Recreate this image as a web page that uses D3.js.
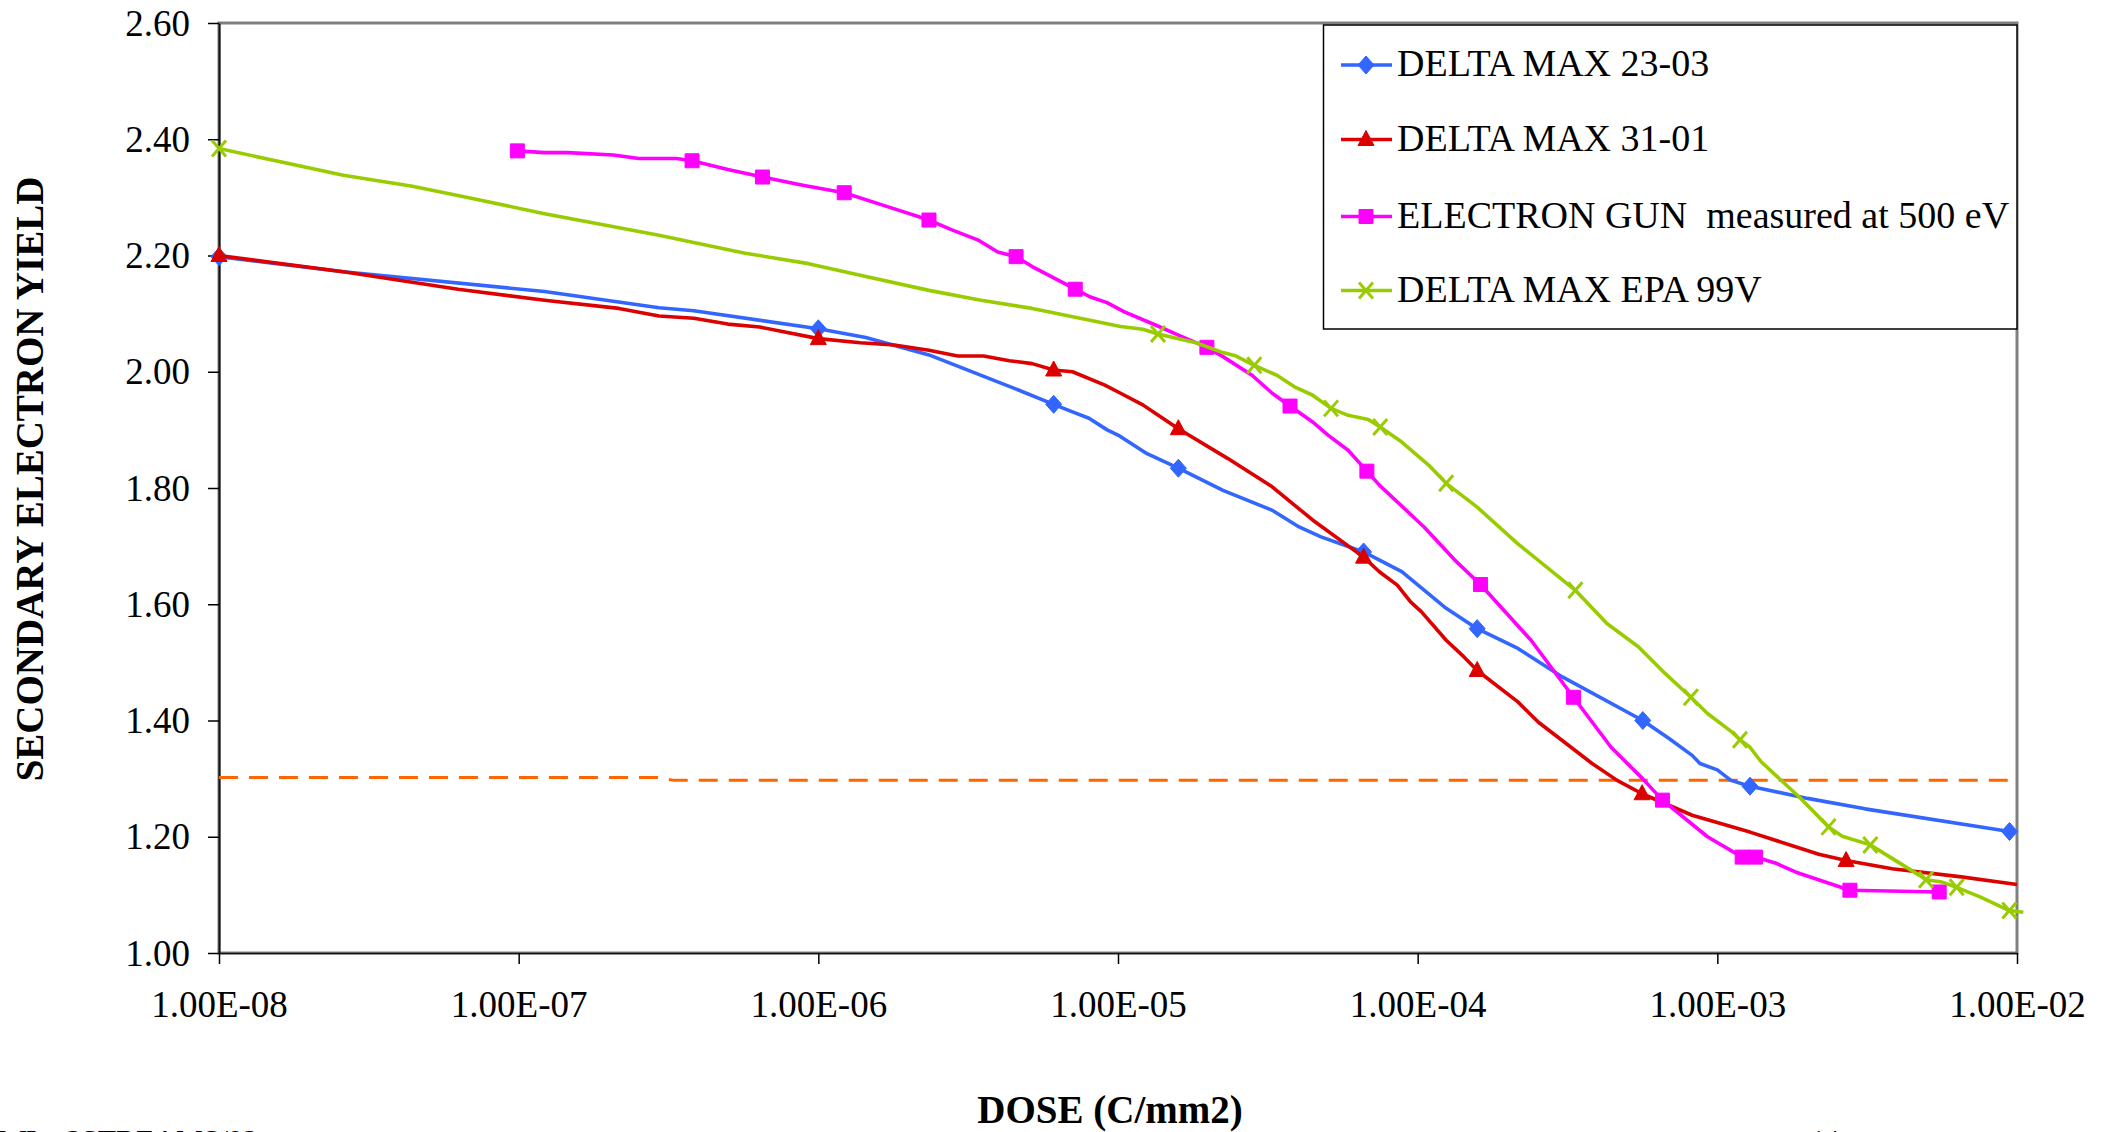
<!DOCTYPE html>
<html>
<head>
<meta charset="utf-8">
<script src="https://cdn.jsdelivr.net/npm/d3@7"></script>
<style>
  html, body { margin: 0; padding: 0; background: #fff; }
  svg { display: block; }
  text { font-family: "Liberation Serif", "Times New Roman", serif; fill: #000; }
</style>
</head>
<body>
<svg id="chart" width="2103" height="1132"></svg>
<script>
// ---------------- DATA ----------------
const xTickValues = [1e-8, 1e-7, 1e-6, 1e-5, 1e-4, 1e-3, 1e-2];
const xTickLabels = ["1.00E-08", "1.00E-07", "1.00E-06", "1.00E-05", "1.00E-04", "1.00E-03", "1.00E-02"];
const yTickValues = [1.00, 1.20, 1.40, 1.60, 1.80, 2.00, 2.20, 2.40, 2.60];
const yTickLabels = ["1.00", "1.20", "1.40", "1.60", "1.80", "2.00", "2.20", "2.40", "2.60"];

const seriesNames = ["DELTA MAX 23-03", "DELTA MAX 31-01", "ELECTRON GUN  measured at 500 eV", "DELTA MAX EPA 99V"];

// [dose (C/mm2), secondary electron yield, marker shown (1/0)]
const deltaMax2303 = [
  [1e-8, 2.198, 1], [2.6e-8, 2.172, 0], [1.22e-7, 2.138, 0], [2.94e-7, 2.110, 0], [3.84e-7, 2.105, 0],
  [1.0e-6, 2.074, 1], [1.44e-6, 2.059, 0], [2.34e-6, 2.029, 0], [4.53e-6, 1.971, 0], [6.1e-6, 1.944, 1],
  [7.05e-6, 1.931, 0], [8.0e-6, 1.920, 0], [9.2e-6, 1.900, 0], [1.0e-5, 1.891, 0], [1.25e-5, 1.859, 0],
  [1.59e-5, 1.834, 1], [2.24e-5, 1.796, 0], [3.26e-5, 1.762, 0], [4.02e-5, 1.733, 0], [4.76e-5, 1.716, 0],
  [6.6e-5, 1.690, 1], [8.85e-5, 1.656, 0], [1.245e-4, 1.593, 0], [1.58e-4, 1.558, 1], [2.16e-4, 1.524, 0],
  [3.04e-4, 1.475, 0], [5.64e-4, 1.400, 1], [6.9e-4, 1.369, 0], [8.24e-4, 1.340, 0], [8.75e-4, 1.326, 0],
  [1.0e-3, 1.315, 0], [1.11e-3, 1.297, 0], [1.285e-3, 1.287, 1], [2.0e-3, 1.266, 0], [3.11e-3, 1.248, 0],
  [9.44e-3, 1.209, 1]
];

const deltaMax3101 = [
  [1e-8, 2.200, 1], [2.6e-8, 2.172, 0], [6.28e-8, 2.142, 0], [1.22e-7, 2.123, 0], [2.16e-7, 2.109, 0],
  [2.94e-7, 2.096, 0], [3.84e-7, 2.092, 0], [4.99e-7, 2.082, 0], [6.37e-7, 2.077, 0], [1.0e-6, 2.057, 1],
  [1.38e-6, 2.050, 0], [1.79e-6, 2.046, 0], [2.34e-6, 2.037, 0], [2.92e-6, 2.027, 0], [3.56e-6, 2.027, 0],
  [4.34e-6, 2.019, 0], [5.17e-6, 2.014, 0], [6.1e-6, 2.003, 1], [7.05e-6, 2.000, 0], [9.04e-6, 1.977, 0],
  [1.02e-5, 1.963, 0], [1.21e-5, 1.943, 0], [1.39e-5, 1.922, 0], [1.59e-5, 1.902, 1], [2.32e-5, 1.851, 0],
  [3.27e-5, 1.802, 0], [4.46e-5, 1.745, 0], [6.6e-5, 1.681, 1], [7.45e-5, 1.656, 0], [8.55e-5, 1.633, 0],
  [9.47e-5, 1.604, 0], [1.03e-4, 1.587, 0], [1.245e-4, 1.538, 0], [1.43e-4, 1.509, 0], [1.58e-4, 1.486, 1],
  [2.16e-4, 1.432, 0], [2.53e-4, 1.397, 0], [3.82e-4, 1.326, 0], [4.63e-4, 1.297, 0], [5.61e-4, 1.274, 1],
  [8.24e-4, 1.237, 0], [1.285e-3, 1.208, 0], [2.18e-3, 1.170, 0], [2.69e-3, 1.159, 1], [3.83e-3, 1.145, 0],
  [6.52e-3, 1.131, 0], [1.0e-2, 1.118, 0]
];

const electronGun = [
  [9.9e-8, 2.380, 1], [1.22e-7, 2.377, 0], [1.46e-7, 2.377, 0], [2.07e-7, 2.373, 0], [2.52e-7, 2.367, 0],
  [3.36e-7, 2.367, 0], [3.79e-7, 2.363, 1], [4.99e-7, 2.348, 0], [6.51e-7, 2.335, 1], [8.87e-7, 2.321, 0],
  [1.22e-6, 2.308, 1], [1.68e-6, 2.285, 0], [2.34e-6, 2.261, 1], [2.79e-6, 2.244, 0], [3.4e-6, 2.227, 0],
  [3.97e-6, 2.206, 0], [4.57e-6, 2.198, 1], [5.17e-6, 2.181, 0], [6.45e-6, 2.155, 0], [7.2e-6, 2.142, 1],
  [8.05e-6, 2.129, 0], [9.19e-6, 2.119, 0], [1.05e-5, 2.103, 0], [1.34e-5, 2.080, 0], [1.59e-5, 2.063, 0],
  [1.98e-5, 2.042, 1], [2.24e-5, 2.026, 0], [2.8e-5, 1.994, 0], [3.27e-5, 1.963, 0], [3.75e-5, 1.941, 1],
  [4.45e-5, 1.914, 0], [5.02e-5, 1.891, 0], [5.86e-5, 1.865, 0], [6.77e-5, 1.829, 1], [7.45e-5, 1.805, 0],
  [1.05e-4, 1.733, 0], [1.33e-4, 1.676, 0], [1.62e-4, 1.634, 1], [2.39e-4, 1.538, 0], [3.31e-4, 1.440, 1],
  [4.42e-4, 1.354, 0], [5.63e-4, 1.300, 0], [6.56e-4, 1.263, 1], [9.27e-4, 1.200, 0], [1.21e-3, 1.165, 1],
  [1.34e-3, 1.165, 1], [1.56e-3, 1.155, 0], [1.83e-3, 1.139, 0], [2.77e-3, 1.108, 1], [5.5e-3, 1.105, 1]
];

const deltaMaxEpa99V = [
  [1e-8, 2.384, 1], [2.6e-8, 2.338, 0], [4.42e-8, 2.319, 0], [6.57e-8, 2.301, 0], [1.22e-7, 2.272, 0],
  [2.94e-7, 2.235, 0], [5.7e-7, 2.204, 0], [9.27e-7, 2.186, 0], [1.38e-6, 2.166, 0], [2.34e-6, 2.140, 0],
  [3.49e-6, 2.123, 0], [5.17e-6, 2.109, 0], [7.48e-6, 2.092, 0], [1.02e-5, 2.078, 0], [1.21e-5, 2.073, 0],
  [1.36e-5, 2.065, 1], [1.82e-5, 2.050, 0], [2.24e-5, 2.033, 0], [2.48e-5, 2.027, 0], [2.85e-5, 2.011, 1],
  [3.39e-5, 1.994, 0], [3.88e-5, 1.974, 0], [4.45e-5, 1.960, 0], [5.14e-5, 1.937, 1], [5.86e-5, 1.925, 0],
  [6.84e-5, 1.918, 0], [7.5e-5, 1.905, 1], [8.85e-5, 1.879, 0], [1.09e-4, 1.839, 0], [1.245e-4, 1.808, 1],
  [1.58e-4, 1.767, 0], [2.16e-4, 1.704, 0], [3.36e-4, 1.624, 1], [4.28e-4, 1.567, 0], [5.45e-4, 1.527, 0],
  [6.69e-4, 1.481, 0], [8.16e-4, 1.440, 1], [9.27e-4, 1.412, 0], [1.12e-3, 1.380, 0], [1.19e-3, 1.367, 1],
  [1.285e-3, 1.354, 0], [1.40e-3, 1.329, 0], [1.88e-3, 1.268, 0], [2.35e-3, 1.217, 1], [2.61e-3, 1.201, 0],
  [3.24e-3, 1.186, 1], [3.61e-3, 1.171, 0], [4.71e-3, 1.134, 0], [4.97e-3, 1.126, 1], [5.62e-3, 1.122, 0],
  [6.29e-3, 1.113, 1], [7.56e-3, 1.096, 0], [9.43e-3, 1.073, 1], [1.05e-2, 1.070, 0]
];

// reference threshold (dashed)
const thresholdLine = [[1e-8, 1.302], [2.9e-7, 1.302], [3.3e-7, 1.297], [1e-2, 1.297]];

const xTitle = "DOSE (C/mm2)";
const yTitle = "SECONDARY ELECTRON YIELD";
const footerLeft = "WL   3STREAMS/02";
const footerRight = "14";

// ---------------- STYLES / LAYOUT ----------------
const W = 2103, H = 1132;
const plot = { left: 219, right: 2017, top: 23, bottom: 953 };
const colors = ["#3366FF", "#DD0000", "#FF00FF", "#99CC00"];
const markerTypes = ["diamond", "triangle", "square", "x"];
const seriesData = [deltaMax2303, deltaMax3101, electronGun, deltaMaxEpa99V];

const svg = d3.select("#chart");
svg.append("rect").attr("width", W).attr("height", H).attr("fill", "#fff");

const x = d3.scaleLog().domain([1e-8, 1e-2]).range([plot.left, plot.right]);
const y = d3.scaleLinear().domain([1.0, 2.6]).range([plot.bottom, plot.top]);

// plot-area border (gray)
svg.append("rect")
  .attr("x", plot.left).attr("y", plot.top)
  .attr("width", plot.right - plot.left).attr("height", plot.bottom - plot.top)
  .attr("fill", "none").attr("stroke", "#808080").attr("stroke-width", 3);

// Axes
const yAxis = d3.axisLeft(y).tickValues(yTickValues)
  .tickFormat((d, i) => yTickLabels[i]).tickSize(11).tickSizeOuter(0).tickPadding(18);
const gy = svg.append("g").attr("transform", `translate(${plot.left},0)`).call(yAxis);
gy.select(".domain").attr("stroke", "#111").attr("stroke-width", 2);
gy.selectAll(".tick line").attr("stroke", "#000").attr("stroke-width", 1.5);
gy.selectAll(".tick text").attr("font-size", 37).attr("font-family", "Liberation Serif, Times New Roman, serif")
  .attr("fill", "#000").attr("dy", "0.33em");

const xAxis = d3.axisBottom(x).tickValues(xTickValues)
  .tickFormat((d, i) => xTickLabels[i]).tickSize(11).tickSizeOuter(0);
const gx = svg.append("g").attr("transform", `translate(0,${plot.bottom})`).call(xAxis);
gx.select(".domain").attr("stroke", "#111").attr("stroke-width", 1.5);
gx.selectAll(".tick line").attr("stroke", "#000").attr("stroke-width", 1.5);
gx.selectAll(".tick text").attr("font-size", 37).attr("font-family", "Liberation Serif, Times New Roman, serif")
  .attr("fill", "#000").attr("y", 64).attr("dy", 0);

// Axis titles
svg.append("text").attr("x", 1110).attr("y", 1123).attr("text-anchor", "middle")
  .attr("font-size", 39).attr("font-weight", "bold").text(xTitle);
svg.append("text").attr("transform", "translate(43,479) rotate(-90)").attr("text-anchor", "middle")
  .attr("font-size", 39).attr("font-weight", "bold").text(yTitle);

// Footer fragments (cut off at bottom of page, as in the source page)
svg.append("text").attr("x", -2).attr("y", 1150).attr("font-size", 30)
  .style("white-space", "pre").text(footerLeft);
svg.append("text").attr("x", 1811).attr("y", 1149).attr("font-size", 28).text(footerRight);

// Dashed threshold line
const line = d3.line().x(d => x(d[0])).y(d => y(d[1]));
svg.append("path").datum(thresholdLine).attr("d", line)
  .attr("fill", "none").attr("stroke", "#FF6600").attr("stroke-width", 3)
  .attr("stroke-dasharray", "19,11");

// marker paths
function markerPath(type) {
  switch (type) {
    case "diamond": return "M0,-9L8,0L0,9L-8,0Z";
    case "triangle": return "M0,-9L8,6L-8,6Z";
    case "square": return "M-7,-7H7V7H-7Z";
    case "x": return "M-7,-8L7,8M-7,8L7,-8";
  }
}
function drawMarker(g, type, color, cx, cy) {
  const p = g.append("path").attr("d", markerPath(type)).attr("transform", `translate(${cx},${cy})`);
  if (type === "x") p.attr("fill", "none").attr("stroke", color).attr("stroke-width", 3);
  else p.attr("fill", color).attr("stroke", color).attr("stroke-width", 1);
}

// Series
seriesData.forEach((data, i) => {
  const g = svg.append("g");
  g.append("path").datum(data).attr("d", line)
    .attr("fill", "none").attr("stroke", colors[i]).attr("stroke-width", 3.6)
    .attr("stroke-linejoin", "round");
  data.filter(d => d[2] === 1).forEach(d => drawMarker(g, markerTypes[i], colors[i], x(d[0]), y(d[1])));
});

// Legend
const legend = { left: 1323.5, top: 25, right: 2017, bottom: 329 };
svg.append("rect").attr("x", legend.left).attr("y", legend.top)
  .attr("width", legend.right - legend.left).attr("height", legend.bottom - legend.top)
  .attr("fill", "#fff").attr("stroke", "#000").attr("stroke-width", 1.5);
const legendY = [65, 139.5, 216.5, 290.5];
seriesNames.forEach((name, i) => {
  const g = svg.append("g");
  const ly = legendY[i];
  g.append("line").attr("x1", 1341).attr("x2", 1392).attr("y1", ly).attr("y2", ly)
    .attr("stroke", colors[i]).attr("stroke-width", 3.6);
  drawMarker(g, markerTypes[i], colors[i], 1366, ly);
  g.append("text").attr("x", 1397).attr("y", ly + 11).attr("font-size", 38)
    .style("white-space", "pre").text(name);
});
</script>
</body>
</html>
